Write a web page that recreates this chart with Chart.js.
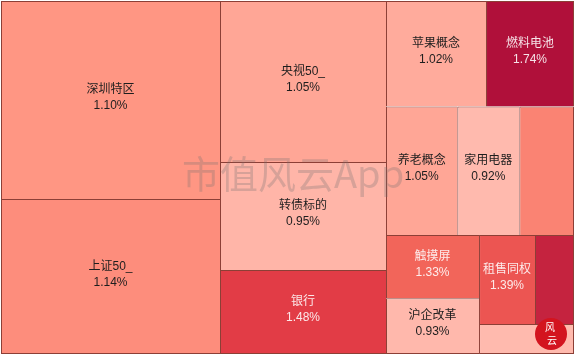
<!DOCTYPE html>
<html><head><meta charset="utf-8">
<script src="https://cdn.jsdelivr.net/npm/chart.js@4.4.1/dist/chart.umd.min.js"></script>
<style>html,body{margin:0;padding:0;background:#fff;}</style>
</head><body>
<canvas id="c" width="575" height="355"></canvas>
<script>
// ---- data ----
const names = ['深圳特区','上证50_','央视50_','转债标的','银行','苹果概念','燃料电池','养老概念','家用电器',null,'触摸屏','沪企改革','租售同权',null,null];
const weights = [433.6, 339.5, 267.3, 179.3, 139.4, 105.5, 92.8, 91.6, 79.7, 70.3, 58.9, 51.8, 49.8, 34.7, 28.5];
const changes = [1.10, 1.14, 1.05, 0.95, 1.48, 1.02, 1.74, 1.05, 0.92, 1.19, 1.33, 0.93, 1.39, 1.63, 0.90];

// ---- layout extents (data space of the scales) ----
const W_UNITS = 573, H_UNITS = 353;

// squarified layout (same greedy rule as ECharts treemap)
function squarify(vals, W, H) {
  const total = vals.reduce((a, b) => a + b, 0);
  const areas = vals.map(v => v / total * W * H);
  const rect = {x: 0, y: 0, width: W, height: H};
  const out = new Array(vals.length);
  const ratio = 0.5 * (1 + Math.sqrt(5));
  let fixed = Math.min(W, H), best = Infinity, row = [], rowArea = 0;
  function worst(row, rowArea, L) {
    let mx = 0, mn = Infinity;
    row.forEach(i => { const a = areas[i]; if (a) { if (a < mn) mn = a; if (a > mx) mx = a; } });
    const sq = rowArea * rowArea, f = L * L * ratio;
    return sq ? Math.max(f * mx / sq, sq / (f * mn)) : Infinity;
  }
  function position(row, rowArea, L, flush) {
    const horiz = (L === rect.width);
    const k0 = horiz ? 'x' : 'y', k1 = horiz ? 'y' : 'x';
    const w0 = horiz ? 'width' : 'height', w1 = horiz ? 'height' : 'width';
    let last = rect[k0];
    let other = L ? rowArea / L : 0;
    if (flush || other > rect[w1]) other = rect[w1];
    row.forEach((idx, j) => {
      const step = other ? areas[idx] / other : 0;
      const remain = rect[k0] + rect[w0] - last;
      const len = (j === row.length - 1 || remain < step) ? remain : step;
      const r = {};
      r[k0] = last; r[w0] = len; r[k1] = rect[k1]; r[w1] = other;
      out[idx] = r;
      last += len;
    });
    rect[k1] += other; rect[w1] -= other;
  }
  for (let i = 0; i < vals.length;) {
    row.push(i); rowArea += areas[i];
    const s = worst(row, rowArea, fixed);
    if (s <= best) { i++; best = s; }
    else {
      rowArea -= areas[row.pop()];
      position(row, rowArea, fixed, false);
      fixed = Math.min(rect.width, rect.height);
      row = []; rowArea = 0; best = Infinity;
    }
  }
  if (row.length) position(row, rowArea, fixed, true);
  return out;
}

// colour scale by change %
const colorStops = [[0.92,[255,186,174]],[1.05,[255,166,150]],[1.10,[255,150,131]],[1.33,[242,101,90]],[1.48,[226,60,70]],[1.74,[176,16,58]]];
function colorFor(v) {
  if (v <= colorStops[0][0]) return 'rgb(' + colorStops[0][1].join(',') + ')';
  for (let k = 1; k < colorStops.length; k++) {
    const [v1, c1] = colorStops[k], [v0, c0] = colorStops[k - 1];
    if (v <= v1) {
      const t = (v - v0) / (v1 - v0);
      return 'rgb(' + c0.map((c, j) => Math.round(c + (c1[j] - c) * t)).join(',') + ')';
    }
  }
  return 'rgb(' + colorStops[colorStops.length - 1][1].join(',') + ')';
}

const cells = squarify(weights, W_UNITS, H_UNITS);
const cellData = cells.map(r => ({x: r.x + r.width / 2, y: r.y + r.height / 2, x0: r.x, x1: r.x + r.width, y0: r.y, y1: r.y + r.height}));
const eps = 0.01;
const borderWidths = cellData.map(d => ({top: 1, left: 1, right: d.x1 > W_UNITS - eps ? 1 : 0, bottom: d.y1 > H_UNITS - eps ? 1 : 0}));

// ---- treemap-style controller built on the bar element ----
class TreemapLite extends Chart.BarController {
  static id = 'treemapLite';
  static defaults = {dataElementType: 'bar', datasetElementType: false};
  static overrides = {scales: {x: {type: 'linear'}, y: {type: 'linear'}}};
  updateElements(rects, start, count, mode) {
    const meta = this._cachedMeta;
    const xs = meta.xScale, ys = meta.yScale;
    const data = this.getDataset().data;
    for (let i = start; i < start + count; i++) {
      const d = data[i];
      const l = xs.getPixelForValue(d.x0), r = xs.getPixelForValue(d.x1);
      const t = ys.getPixelForValue(d.y0), b = ys.getPixelForValue(d.y1);
      const top = Math.min(t, b), bottom = Math.max(t, b);
      const props = {horizontal: false, x: (l + r) / 2, y: top, base: bottom, width: r - l, height: bottom - top,
        borderSkipped: {}, enableBorderRadius: false, inflateAmount: 0};
      props.options = this.resolveDataElementOptions(i, mode);
      this.updateElement(rects[i], i, props, mode);
    }
  }
}
Chart.register(TreemapLite);

const labelPlugin = {
  id: 'cellLabels',
  afterDatasetsDraw(chart) {
    const ctx = chart.ctx;
    const meta = chart.getDatasetMeta(0);
    meta.data.forEach((el, i) => {
      const name = names[i];
      if (!name) return;
      const cx = el.x, cy = (el.y + el.base) / 2;
      ctx.save();
      ctx.textAlign = 'center';
      ctx.textBaseline = 'middle';
      ctx.font = '12px "Liberation Sans", "Noto Sans CJK SC", sans-serif';
      ctx.fillStyle = changes[i] >= 1.3 ? 'rgba(255,255,255,0.88)' : '#1e1e1e';
      ctx.fillText(name, cx, cy - 10);
      ctx.fillText(changes[i].toFixed(2) + '%', cx, cy + 6);
      ctx.restore();
    });
  },
  afterDraw(chart) {
    const ctx = chart.ctx;
    // watermark
    ctx.save();
    ctx.font = '38px "Noto Sans CJK SC", sans-serif';
    ctx.textBaseline = 'middle';
    ctx.textAlign = 'left';
    ctx.fillStyle = 'rgba(110,110,110,0.28)';
    ctx.fillText('市值风云App', 182, 174);
    ctx.restore();
    // logo
    ctx.save();
    ctx.beginPath();
    ctx.arc(551, 334, 16, 0, Math.PI * 2);
    ctx.fillStyle = '#d3141f';
    ctx.fill();
    ctx.fillStyle = '#ffffff';
    ctx.font = '10px "Noto Sans CJK SC", sans-serif';
    ctx.textAlign = 'center';
    ctx.textBaseline = 'middle';
    ctx.fillText('风', 550, 327);
    ctx.fillText('云', 552, 340);
    ctx.restore();
  }
};

new Chart(document.getElementById('c'), {
  type: 'treemapLite',
  data: {
    datasets: [{
      data: cellData,
      backgroundColor: changes.map(colorFor),
      borderColor: '#8c3f36',
      borderWidth: c => borderWidths[c.dataIndex]
    }]
  },
  options: {
    responsive: false,
    animation: false,
    layout: {padding: {left: 1, top: 1, right: 1, bottom: 1}},
    scales: {
      x: {type: 'linear', min: 0, max: W_UNITS, display: false},
      y: {type: 'linear', min: 0, max: H_UNITS, reverse: true, display: false}
    },
    plugins: {legend: {display: false}, tooltip: {enabled: false}}
  },
  plugins: [labelPlugin]
});
</script>
</body></html>
